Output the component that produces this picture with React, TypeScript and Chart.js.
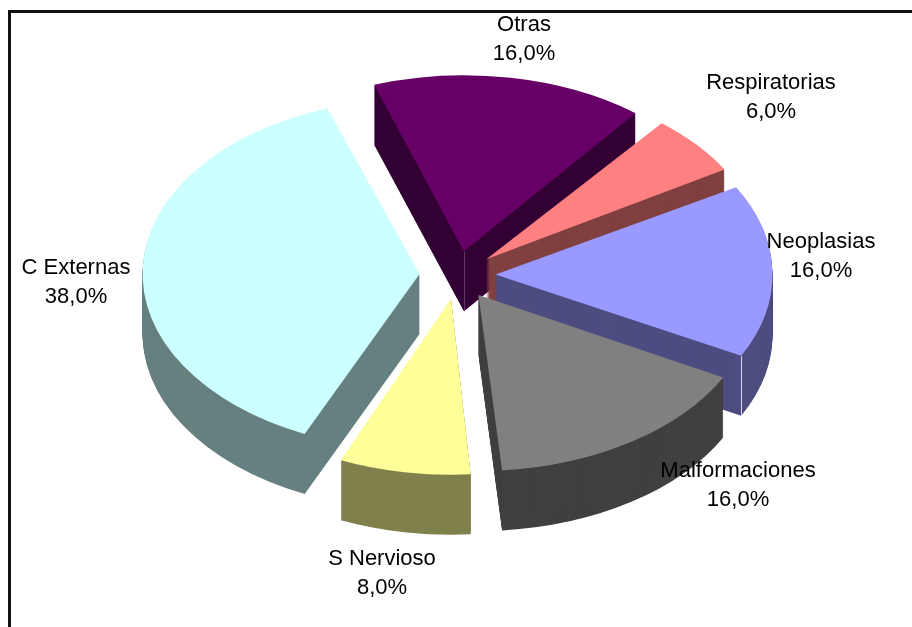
import React, { useEffect, useRef } from "react";
import { Chart, registerables } from "chart.js";

Chart.register(...registerables);

const categories = ["Otras", "Respiratorias", "Neoplasias", "Malformaciones", "S Nervioso", "C Externas"];
const values = [16, 6, 16, 16, 8, 38];
const topColors = ["#660066", "#FF8080", "#9999FF", "#808080", "#FFFF99", "#CCFFFF"];
const sideColors = ["#330033", "#804040", "#4D4D80", "#404040", "#80804D", "#668080"];

// layout of the labels (label centre, first line)
const labelCentres = [
  [524, 25],
  [771, 83],
  [821, 242],
  [738, 471],
  [382, 559],
  [76, 268],
];

const W = 912;
const H = 627;
const CX = 457.5;
const CY = 275;
const TILT = 0.635;
const RADIUS = 277;
const EXPLODE = 38;
const DEPTH = 60;

function tilt(ctx: CanvasRenderingContext2D, arc: any, dy: number) {
  ctx.translate(CX, CY + dy);
  ctx.scale(1, TILT);
  ctx.translate(-arc.x, -arc.y);
}

const pie3d = {
  id: "pie3d",
  beforeDraw(chart: any) {
    const { ctx } = chart;
    ctx.save();
    ctx.fillStyle = "#fff";
    ctx.fillRect(0, 0, W, H);
    ctx.strokeStyle = "#111";
    ctx.lineWidth = 3;
    ctx.beginPath();
    ctx.moveTo(9.5, H + 5);
    ctx.lineTo(9.5, 11.5);
    ctx.lineTo(W + 5, 11.5);
    ctx.stroke();
    ctx.restore();
  },
  beforeDatasetsDraw(chart: any) {
    const { ctx } = chart;
    const arcs: any[] = chart.getDatasetMeta(0).data;
    // the library pushes the rim outwards when a slice is exploded: compensate so all radii match
    arcs.forEach((arc) => {
      const fix = 1 - Math.sin(Math.min(Math.PI, arc.circumference));
      arc.outerRadius = RADIUS - EXPLODE * fix;
    });
    const mid = (a: any) => (a.startAngle + a.endAngle) / 2;
    const order = arcs
      .map((a, i) => ({ a, i }))
      .sort((p, q) => Math.sin(mid(p.a)) - Math.sin(mid(q.a)));
    order.forEach(({ a, i }) => {
      const saved = a.options;
      a.options = { ...saved, backgroundColor: sideColors[i], borderWidth: 0 };
      for (let d = DEPTH; d >= 1; d--) {
        ctx.save();
        tilt(ctx, a, d);
        a.draw(ctx);
        ctx.restore();
      }
      a.options = saved;
    });
    // pale highlight on the vertical corners
    const vertical = (i: number, atApex: boolean, colour: string) => {
      const a = arcs[i];
      const m = mid(a);
      const x = CX + Math.cos(m) * EXPLODE + (atApex ? 0 : Math.cos(a.endAngle) * RADIUS);
      const y = CY + (Math.sin(m) * EXPLODE + (atApex ? 0 : Math.sin(a.endAngle) * RADIUS)) * TILT;
      ctx.save();
      ctx.strokeStyle = colour;
      ctx.lineWidth = 1;
      ctx.beginPath();
      ctx.moveTo(Math.round(x) + 0.5, y);
      ctx.lineTo(Math.round(x) + 0.5, y + DEPTH);
      ctx.stroke();
      ctx.restore();
    };
    vertical(0, true, "#663366");
    vertical(2, false, "#D8D8F0");
    ctx.save();
    tilt(ctx, arcs[0], 0);
  },
  afterDatasetsDraw(chart: any) {
    chart.ctx.restore();
  },
  afterDraw(chart: any) {
    const { ctx } = chart;
    ctx.save();
    ctx.fillStyle = "#000";
    ctx.font = '22px "Liberation Sans", Arial, sans-serif';
    ctx.textAlign = "center";
    ctx.textBaseline = "middle";
    categories.forEach((name, i) => {
      const [x, y] = labelCentres[i];
      ctx.fillText(name, x, y);
      ctx.fillText(values[i].toFixed(1).replace(".", ",") + "%", x, y + 28.5);
    });
    ctx.restore();
  },
};

export default function App() {
  const ref = useRef<HTMLCanvasElement>(null);
  useEffect(() => {
    const chart = new Chart(ref.current as HTMLCanvasElement, {
      type: "pie",
      data: {
        labels: categories,
        datasets: [
          {
            data: values,
            backgroundColor: topColors,
            borderWidth: 0,
            offset: EXPLODE * 4,
            clip: false,
          } as any,
        ],
      },
      options: {
        animation: false,
        responsive: false,
        rotation: -19.1,
        radius: RADIUS,
        plugins: { legend: { display: false }, tooltip: { enabled: false } },
      } as any,
      plugins: [pie3d],
    });
    return () => chart.destroy();
  }, []);
  return (
    <canvas
      ref={ref}
      width={W}
      height={H}
      style={{ position: "absolute", left: 0, top: 0, width: W, height: H, display: "block" }}
    />
  );
}
